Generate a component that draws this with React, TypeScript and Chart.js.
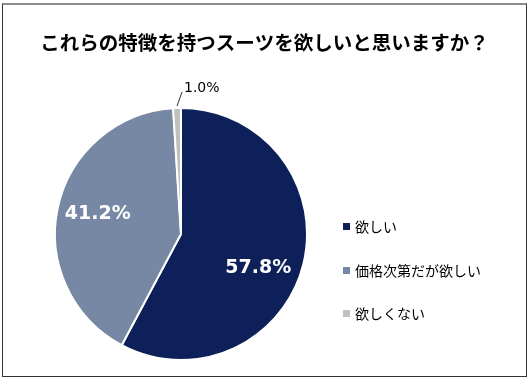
import React, { useEffect, useRef } from "react";
import { Chart, registerables } from "chart.js";

Chart.register(...registerables);

const titleText = "これらの特徴を持つスーツを欲しいと思いますか？";
const categories = ["欲しい", "価格次第だが欲しい", "欲しくない"];
const values = [57.8, 41.2, 1.0];
const valueLabels = ["57.8%", "41.2%", "1.0%"];
const colors = ["#0e2059", "#7788a4", "#bfbfbf"];

// label placement: fraction along slice angle, fraction of radius (inside labels)
const labelAngleFrac = [0.547, 0.51, 0.5];
const labelRadiusFrac = [0.67, 0.68, 1.0];

const CJK = '"Noto Sans CJK JP", "Noto Sans", sans-serif';
const NUM = '"DejaVu Sans", Verdana, sans-serif';

const overlayPlugin = {
  id: "overlay",
  afterDatasetsDraw(chart: any) {
    const ctx = chart.ctx as CanvasRenderingContext2D;
    const w = chart.width;
    ctx.save();
    // title
    ctx.fillStyle = "#000";
    ctx.font = `bold 19.5px ${CJK}`;
    ctx.textAlign = "center";
    ctx.textBaseline = "middle";
    ctx.fillText(titleText, w / 2 - 1, 43);

    // slice labels
    const meta = chart.getDatasetMeta(0);
    meta.data.forEach((arc: any, i: number) => {
      const p = arc.getProps(["x", "y", "startAngle", "endAngle", "outerRadius"], true);
      const ang = p.startAngle + (p.endAngle - p.startAngle) * labelAngleFrac[i];
      if (i < 2) {
        const r = p.outerRadius * labelRadiusFrac[i];
        ctx.fillStyle = "#fff";
        ctx.font = `bold 19px ${NUM}`;
        ctx.textAlign = "center";
        ctx.textBaseline = "middle";
        ctx.fillText(valueLabels[i], p.x + Math.cos(ang) * r, p.y + Math.sin(ang) * r);
      } else {
        const x0 = p.x + Math.cos(ang) * (p.outerRadius + 2);
        const y0 = p.y + Math.sin(ang) * (p.outerRadius + 2);
        const x1 = x0 + 5;
        const y1 = y0 - 14;
        ctx.strokeStyle = "#333";
        ctx.lineWidth = 1;
        ctx.beginPath();
        ctx.moveTo(x0, y0);
        ctx.lineTo(x1, y1);
        ctx.stroke();
        ctx.fillStyle = "#000";
        ctx.font = `14px ${NUM}`;
        ctx.textAlign = "left";
        ctx.textBaseline = "middle";
        ctx.fillText(valueLabels[i], x1 + 2, y1 - 4);
      }
    });

    // legend
    const lx = 343;
    const ly = [226, 270, 313];
    categories.forEach((c, i) => {
      ctx.fillStyle = colors[i];
      ctx.fillRect(lx, ly[i] - 3, 7, 7);
      ctx.fillStyle = "#000";
      ctx.font = `14px ${CJK}`;
      ctx.textAlign = "left";
      ctx.textBaseline = "middle";
      ctx.fillText(c, lx + 12, ly[i] + 1);
    });
    ctx.restore();
  },
};

export default function App() {
  const ref = useRef<HTMLCanvasElement | null>(null);
  useEffect(() => {
    if (!ref.current) return;
    const chart = new Chart(ref.current, {
      type: "pie",
      data: {
        labels: categories,
        datasets: [
          {
            data: values,
            backgroundColor: colors,
            borderColor: "#ffffff",
            borderWidth: 2,
          },
        ],
      },
      options: {
        animation: false,
        responsive: false,
        maintainAspectRatio: false,
        layout: { padding: { left: 54, right: 223, top: 107, bottom: 21 } },
        plugins: {
          legend: { display: false },
          title: { display: false },
          tooltip: { enabled: false },
        },
      },
      plugins: [overlayPlugin],
    });
    return () => chart.destroy();
  }, []);
  return (
    <div style={{ position: "fixed", left: 0, top: 0, width: 531, height: 382, background: "#fff" }}>
      <div
        style={{
          position: "absolute",
          left: 2,
          top: 3,
          width: 525,
          height: 374,
          boxSizing: "border-box",
          border: "1px solid #333",
          borderTop: "2px solid #8c8c8c",
        }}
      />
      <canvas ref={ref} width={531} height={382} style={{ position: "absolute", left: 0, top: 0 }} />
    </div>
  );
}
